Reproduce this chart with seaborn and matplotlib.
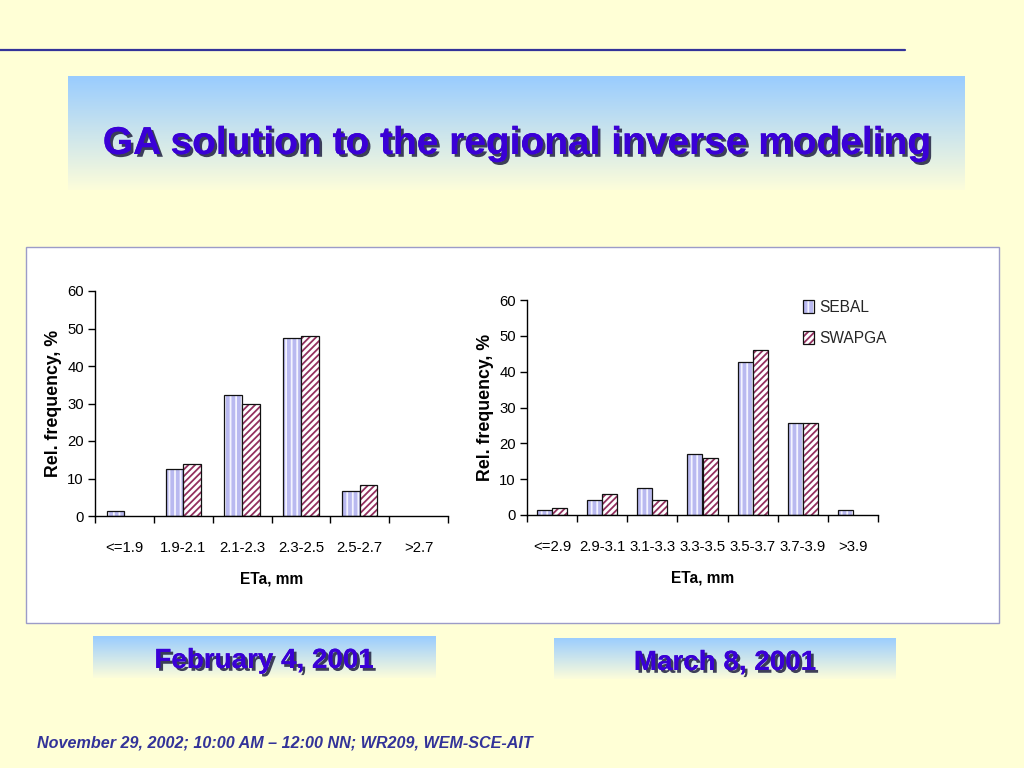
import numpy as np
import pandas as pd
import matplotlib
matplotlib.use("Agg")
import matplotlib.pyplot as plt
import matplotlib.patheffects as pe
from matplotlib.colors import to_rgba
from matplotlib.patches import Rectangle, Patch
from matplotlib import font_manager
import seaborn as sns

# ---------------- data ----------------
cats_feb = ["<=1.9", "1.9-2.1", "2.1-2.3", "2.3-2.5", "2.5-2.7", ">2.7"]
sebal_feb = [1.3, 12.5, 32.2, 47.5, 6.8, 0.0]
swapga_feb = [0.0, 14.0, 30.0, 48.0, 8.2, 0.0]

cats_mar = ["<=2.9", "2.9-3.1", "3.1-3.3", "3.3-3.5", "3.5-3.7", "3.7-3.9", ">3.9"]
sebal_mar = [1.4, 4.3, 7.5, 17.0, 42.8, 25.8, 1.4]
swapga_mar = [2.0, 6.0, 4.3, 16.0, 46.0, 25.8, 0.0]

series_names = ["SEBAL", "SWAPGA"]
title_text = "GA solution to the regional inverse modeling"
date_left = "February 4, 2001"
date_right = "March 8, 2001"
footer_text = "November 29, 2002; 10:00 AM \u2013 12:00 NN; WR209, WEM-SCE-AIT"
ylabel_text = "Rel. frequency, %"
xlabel_text = "ETa, mm"

# ---------------- style ----------------
sns.set_theme(style="white")
plt.rcParams["font.family"] = ["Liberation Sans", "DejaVu Sans"]
plt.rcParams["hatch.linewidth"] = 1.3

installed = {f.name for f in font_manager.fontManager.ttflist}
NARROW = ["Liberation Sans Narrow", "Liberation Sans"] if "Liberation Sans Narrow" in installed else ["Liberation Sans"]
narrow_scale = 1.0 if "Liberation Sans Narrow" in installed else 0.93

BG = "#FFFFD6"
TITLE_BLUE = "#3A00D6"
SEBAL_FACE = "#B9B9F0"
SEBAL_HATCH = "#F4F4FF"
SWAP_FACE = "#FFFFFF"
SWAP_HATCH = "#93305F"

W, H = 1024, 768
fig = plt.figure(figsize=(W / 100, H / 100), dpi=100, facecolor=BG)


def fx(x):
    return x / W


def fy(y):
    return 1 - y / H


def gradient_box(x0, y0, x1, y1, top, bottom, z=0):
    ax = fig.add_axes([fx(x0), fy(y1), fx(x1) - fx(x0), fy(y0) - fy(y1)], zorder=z)
    ax.set_axis_off()
    t = np.linspace(0, 1, 256)[:, None]
    c0 = np.array(to_rgba(top))
    c1 = np.array(to_rgba(bottom))
    img = (1 - t)[..., None] * c0 + t[..., None] * c1
    img = np.repeat(img, 2, axis=1)
    ax.imshow(img, aspect="auto", extent=[0, 1, 0, 1])
    ax.set_xlim(0, 1)
    ax.set_ylim(0, 1)
    return ax


# top rule line
fig.add_artist(plt.Line2D([fx(0), fx(905)], [fy(50), fy(50)], color="#333399", lw=1.6))

# title band
gradient_box(68, 76, 965, 190, "#99CCFF", "#FDFDDA")
shadow = [pe.withSimplePatchShadow(offset=(2.0, -2.0), shadow_rgbFace="#202040", alpha=0.85), pe.Normal()]
fig.text(fx(517), fy(144), title_text, ha="center", va="center", fontsize=28,
         fontweight="bold", color=TITLE_BLUE, path_effects=shadow)

# white chart panel
fig.add_artist(Rectangle((fx(26), fy(623)), fx(999) - fx(26), fy(247) - fy(623),
                         transform=fig.transFigure, facecolor="white",
                         edgecolor="#9C9CC8", lw=1.0, zorder=0.5))

# date bands
gradient_box(93, 636, 436, 678, "#99CCFF", "#FDFDDA", z=1)
gradient_box(554, 638, 896, 679, "#99CCFF", "#FDFDDA", z=1)
fig.text(fx(264), fy(661), date_left, ha="center", va="center", fontsize=20,
         fontweight="bold", color=TITLE_BLUE, path_effects=shadow, zorder=5)
fig.text(fx(725), fy(663), date_right, ha="center", va="center", fontsize=20,
         fontweight="bold", color=TITLE_BLUE, path_effects=shadow, zorder=5)

# footer
fig.text(fx(37), fy(743), footer_text, ha="left", va="center", fontsize=11.6,
         fontweight="bold", fontstyle="italic", color="#333399")


def set_hatch_color(p, color):
    if hasattr(p, "set_hatchcolor"):
        p.set_hatchcolor(color)
    else:
        p._hatch_color = to_rgba(color)


def draw_chart(rect, cats, s1, s2, show_legend):
    ax = fig.add_axes(rect, zorder=2)
    ax.patch.set_alpha(0)
    df = pd.DataFrame({
        "cat": cats * 2,
        "val": list(s1) + list(s2),
        "series": [series_names[0]] * len(cats) + [series_names[1]] * len(cats),
    })
    sns.barplot(data=df, x="cat", y="val", hue="series", order=cats,
                hue_order=series_names, width=0.6, dodge=True, gap=0,
                palette=[SEBAL_FACE, SWAP_FACE], saturation=1,
                edgecolor="#111111", linewidth=0.9, legend=False, ax=ax, errorbar=None)
    n = len(cats)
    bars = [p for p in ax.patches if isinstance(p, Rectangle)]
    for i, p in enumerate(bars[: 2 * n]):
        if p.get_height() <= 0:
            p.set_visible(False)
            continue
        if i < n:
            p.set_facecolor(SEBAL_FACE)
            p.set_hatch("|||")
            p.set_edgecolor("#111111")
            set_hatch_color(p, SEBAL_HATCH)
        else:
            p.set_facecolor(SWAP_FACE)
            p.set_hatch("/////")
            p.set_edgecolor("#111111")
            set_hatch_color(p, SWAP_HATCH)

    ax.set_xlim(-0.5, n - 0.5)
    ax.set_ylim(0, 60)
    ax.set_yticks(range(0, 61, 10))
    ax.set_xticks(range(n))
    ax.set_xticklabels(cats)
    ax.set_xticks(np.arange(-0.5, n, 1.0), minor=True)
    ax.tick_params(axis="x", which="major", bottom=False, length=0, pad=18,
                   labelsize=11.5 * narrow_scale, colors="black")
    ax.tick_params(axis="x", which="minor", bottom=True, length=5, width=1,
                   direction="out", color="black")
    ax.tick_params(axis="y", which="major", left=True, length=5, width=1, direction="out",
                   labelsize=11.5 * narrow_scale, colors="black", pad=3)
    for lab in ax.get_xticklabels() + ax.get_yticklabels():
        lab.set_family(NARROW)
    for s in ["top", "right"]:
        ax.spines[s].set_visible(False)
    for s in ["left", "bottom"]:
        ax.spines[s].set_color("black")
        ax.spines[s].set_linewidth(1.0)
    ax.set_ylabel(ylabel_text, fontsize=12.8, fontweight="bold", color="black", labelpad=4)
    ax.set_xlabel(xlabel_text, fontsize=12 * narrow_scale, fontweight="bold", color="black",
                  labelpad=12, family=NARROW)
    ax.grid(False)

    if show_legend:
        h1 = Patch(facecolor=SEBAL_FACE, edgecolor="#111111", hatch="|||", lw=0.9)
        h2 = Patch(facecolor=SWAP_FACE, edgecolor="#111111", hatch="/////", lw=0.9)
        set_hatch_color(h1, SEBAL_HATCH)
        set_hatch_color(h2, SWAP_HATCH)
        ax.legend([h1, h2], series_names, loc="upper left",
                  bbox_to_anchor=(0.77, 1.03), frameon=False,
                  prop={"family": NARROW, "size": 12 * narrow_scale},
                  handlelength=0.7, handleheight=0.9, handletextpad=0.3,
                  labelspacing=1.05, borderaxespad=0)
    return ax


draw_chart([fx(95), fy(516), fx(448) - fx(95), fy(291) - fy(516)],
           cats_feb, sebal_feb, swapga_feb, False)
draw_chart([fx(527), fy(515), fx(878) - fx(527), fy(300) - fy(515)],
           cats_mar, sebal_mar, swapga_mar, True)

fig.savefig("out.png", dpi=100, facecolor=BG)
